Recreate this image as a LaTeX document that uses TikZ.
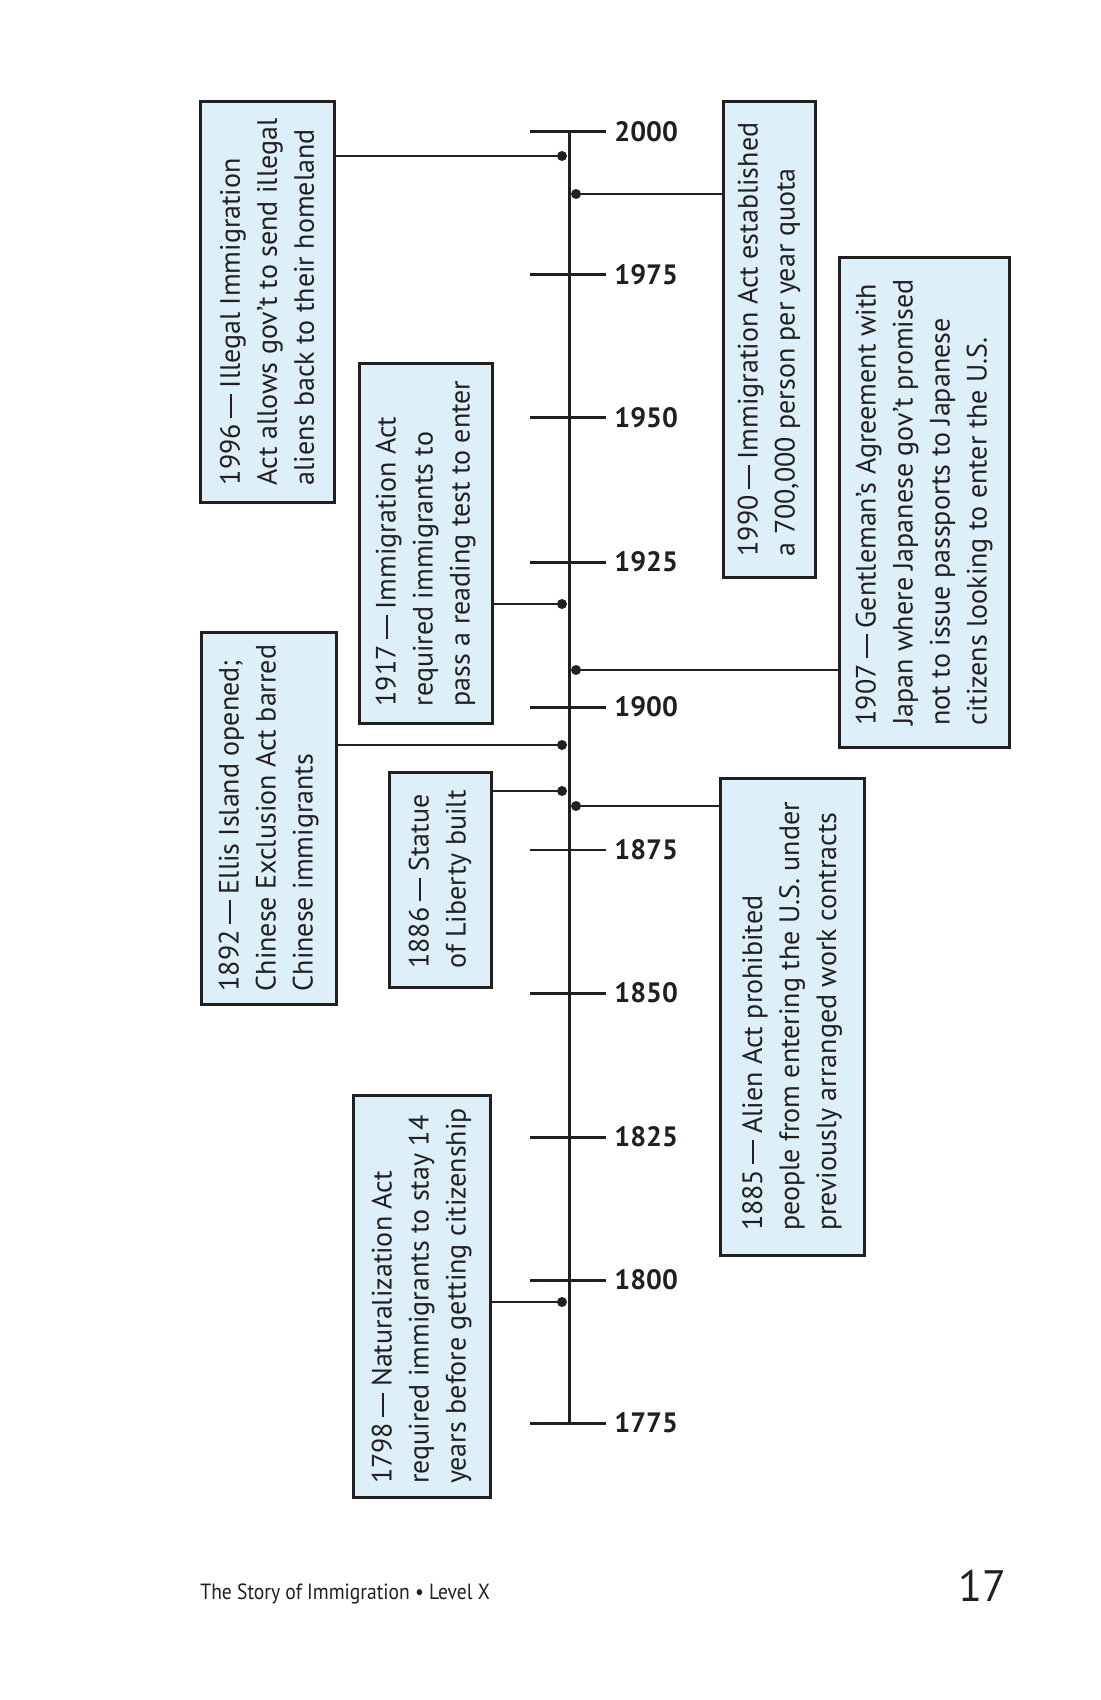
\documentclass[tikz,border=0pt]{standalone}
\usepackage{fontspec}
\setmainfont{PT Sans}
\usepackage{graphicx}
\definecolor{ink}{RGB}{35,31,32}
\definecolor{boxblue}{RGB}{221,240,250}
\newcommand{\longdash}{\hspace{0.22em}\rule[0.27em]{0.85em}{0.07em}\hspace{0.22em}}
\begin{document}
\begin{tikzpicture}[x=0.5pt,y=-0.5pt,
  evbox/.style={draw=ink, line width=1.5pt, fill=boxblue, rotate=90, inner sep=0pt, align=left, font=\fontsize{14}{18.5}\selectfont, text=ink},
  tickline/.style={draw=ink, line width=1.5pt},
  conn/.style={draw=ink, line width=1.25pt},
  thinconn/.style={draw=ink, line width=0.7pt},
  yearlbl/.style={anchor=west, font=\bfseries\fontsize{14}{14}\selectfont, text=ink, inner sep=0pt},
  dot/.style={circle, fill=ink, inner sep=0pt, minimum size=5pt}
]
\useasboundingbox (0,0) rectangle (1100,1700);

% axis and ticks
\coordinate (axtop) at (569,132);
\coordinate (axbot) at (569,1423);
\draw[tickline] (axtop) -- (axbot);
\foreach \yr/\yy in {2000/132,1975/275,1950/418,1925/562,1900/707,1850/993,1825/1137,1800/1280,1775/1423}{
  \draw[tickline] (530,\yy) -- (606,\yy);
  \node[yearlbl] (y\yr) at (614,\yy) {\yr};
}
\draw[draw=ink, line width=0.9pt] (530,850) -- (606,850);
\node[yearlbl] (y1875) at (614,850) {1875};

% event boxes
\node[evbox, minimum width=200pt, minimum height=67pt] (b1996) at (267,302)
  {1996\longdash Illegal Immigration\\Act allows gov’t to send illegal\\aliens back to their homeland};
\node[evbox, minimum width=237.5pt, minimum height=46pt] (b1990) at (769,339.5)
  {1990\longdash Immigration Act established\\a 700,000 person per year quota};
\node[evbox, minimum width=179.5pt, minimum height=66.5pt] (b1917) at (425.5,543.5)
  {1917\longdash Immigration Act\\required immigrants to\\pass a reading test to enter};
\node[evbox, minimum width=244.5pt, minimum height=85pt] (b1907) at (924,502.5)
  {1907\longdash Gentleman’s Agreement with\\Japan where Japanese gov’t promised\\not to issue passports to Japanese\\citizens looking to enter the U.S.};
\node[evbox, minimum width=186pt, minimum height=67.5pt] (b1892) at (268.5,818)
  {1892\longdash Ellis Island opened;\\Chinese Exclusion Act barred\\Chinese immigrants};
\node[evbox, minimum width=107.5pt, minimum height=51pt] (b1886) at (440,879.5)
  {1886\longdash Statue\\of Liberty built};
\node[evbox, minimum width=238.5pt, minimum height=72pt] (b1885) at (792,1016.5)
  {1885\longdash Alien Act prohibited\\people from entering the U.S. under\\previously arranged work contracts};
\node[evbox, minimum width=201pt, minimum height=68.5pt] (b1798) at (421.5,1296)
  {1798\longdash Naturalization Act\\required immigrants to stay 14\\years before getting citizenship};

% dots
\node[dot] (d1996) at (562,156) {};
\node[dot] (d1990) at (576,194) {};
\node[dot] (d1917) at (562,604) {};
\node[dot] (d1907) at (576,670) {};
\node[dot] (d1892) at (562,745) {};
\node[dot] (d1886) at (562,791) {};
\node[dot] (d1885) at (576,806) {};
\node[dot] (d1798) at (562,1302) {};

% connectors
\draw[conn] (b1996.south |- d1996) -- (d1996.center);
\draw[conn] (d1990.center) -- (b1990.north |- d1990);
\draw[thinconn] (b1917.south |- d1917) -- (d1917.center);
\draw[conn] (d1907.center) -- (b1907.north |- d1907);
\draw[conn] (b1892.south |- d1892) -- (d1892.center);
\draw[thinconn] (b1886.south |- d1886) -- (d1886.center);
\draw[conn] (d1885.center) -- (b1885.north |- d1885);
\draw[thinconn] (b1798.south |- d1798) -- (d1798.center);

% footer
\node[anchor=base west, inner sep=0pt, font=\fontsize{11}{11}\selectfont, text=ink] (footer) at (200,1599)
  {\scalebox{0.89}[1]{The Story of Immigration • Level X}};
\node[anchor=base west, inner sep=0pt, font=\fontsize{22}{22}\selectfont, text=ink] (pageno) at (958,1601) {17};
\end{tikzpicture}
\end{document}
